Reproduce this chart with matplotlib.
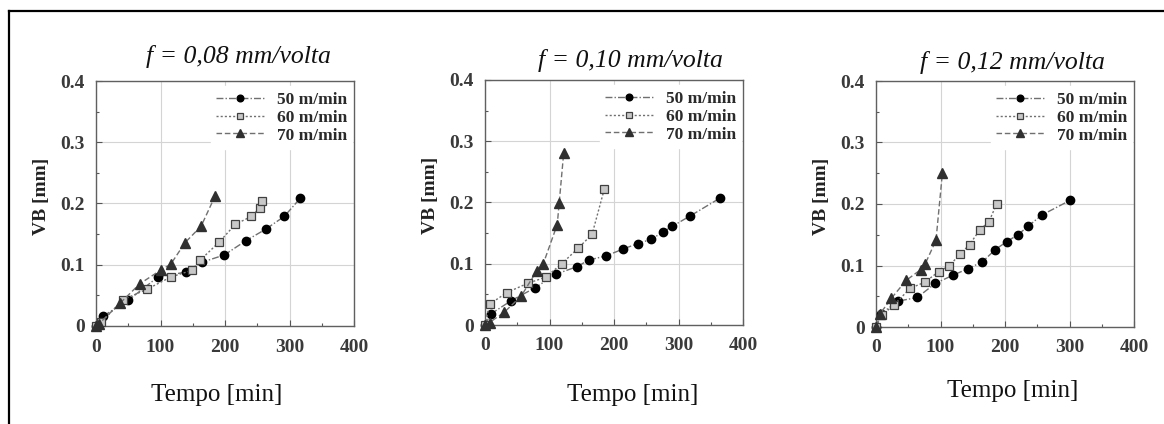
import numpy as np
import matplotlib
matplotlib.use("Agg")
import matplotlib.pyplot as plt
from matplotlib.ticker import MultipleLocator, FuncFormatter
from matplotlib.lines import Line2D

plt.rcParams['font.family'] = ['Liberation Serif', 'DejaVu Serif']

titulos = ["f = 0,08 mm/volta", "f = 0,10 mm/volta", "f = 0,12 mm/volta"]
rotulos = ["50 m/min", "60 m/min", "70 m/min"]

# f = 0,08
t50_a = [0, 11, 50, 96, 139, 164, 199, 232, 263, 292, 317]
vb50_a = [0, 0.016, 0.042, 0.080, 0.088, 0.104, 0.116, 0.139, 0.158, 0.179, 0.209]
t60_a = [0, 8, 42, 79, 116, 149, 162, 191, 216, 241, 254, 258]
vb60_a = [0, 0.006, 0.043, 0.060, 0.080, 0.091, 0.108, 0.137, 0.166, 0.179, 0.193, 0.204]
t70_a = [0, 5, 37, 68, 100, 116, 138, 163, 185]
vb70_a = [0, 0.004, 0.037, 0.069, 0.091, 0.101, 0.136, 0.163, 0.213]

# f = 0,10
t50_b = [0, 9, 41, 78, 110, 142, 161, 188, 214, 237, 258, 276, 290, 318, 364]
vb50_b = [0, 0.018, 0.040, 0.061, 0.083, 0.095, 0.106, 0.113, 0.124, 0.133, 0.140, 0.152, 0.161, 0.178, 0.207]
t60_b = [0, 7, 34, 66, 94, 119, 144, 166, 185]
vb60_b = [0, 0.034, 0.053, 0.068, 0.078, 0.100, 0.125, 0.148, 0.222]
t70_b = [0, 7, 30, 56, 80, 90, 112, 115, 122]
vb70_b = [0, 0.004, 0.021, 0.047, 0.088, 0.099, 0.164, 0.199, 0.281]

# f = 0,12
t50_c = [0, 7, 34, 64, 92, 119, 143, 165, 185, 203, 220, 236, 257, 301]
vb50_c = [0, 0.021, 0.042, 0.048, 0.071, 0.084, 0.095, 0.106, 0.126, 0.139, 0.150, 0.164, 0.182, 0.206]
t60_c = [0, 9, 28, 53, 76, 97, 113, 131, 145, 161, 175, 187]
vb60_c = [0, 0.019, 0.036, 0.063, 0.073, 0.090, 0.099, 0.119, 0.134, 0.158, 0.171, 0.200]
t70_c = [0, 6, 24, 47, 69, 76, 93, 103]
vb70_c = [0, 0.021, 0.047, 0.076, 0.093, 0.102, 0.141, 0.251]

dados = [
    [(t50_a, vb50_a), (t60_a, vb60_a), (t70_a, vb70_a)],
    [(t50_b, vb50_b), (t60_b, vb60_b), (t70_b, vb70_b)],
    [(t50_c, vb50_c), (t60_c, vb60_c), (t70_c, vb70_c)],
]

estilos = [
    dict(linestyle=(0, (5, 1.5, 1, 1.5)), marker='o', markersize=6,
         markerfacecolor='black', markeredgecolor='black'),
    dict(linestyle=(0, (1.5, 1.5)), marker='s', markersize=6,
         markerfacecolor='#c8c8c8', markeredgecolor='#404040', markeredgewidth=0.9),
    dict(linestyle=(0, (4, 2)), marker='^', markersize=6.5,
         markerfacecolor='#303030', markeredgecolor='#303030'),
]

W, H = 1164, 424
fig = plt.figure(figsize=(W / 100, H / 100), dpi=100)

caixas = [(96, 81, 354, 326), (485, 80, 743, 325), (876, 81, 1134, 327)]
pos_titulo = [(238, 57), (630, 60), (1012, 62)]
pos_xlabel = [(217, 395), (633, 395), (1013, 391)]

for i in range(3):
    x0, y0, x1, y1 = caixas[i]
    ax = fig.add_axes([x0 / W, 1 - y1 / H, (x1 - x0) / W, (y1 - y0) / H])
    for j in range(3):
        t, vb = dados[i][j]
        ax.plot(t, vb, color='#707070', linewidth=1.0, label=rotulos[j],
                clip_on=False, zorder=3 + j, **estilos[j])

    ax.set_xlim(0, 400)
    ax.set_ylim(0, 0.4)
    ax.xaxis.set_major_locator(MultipleLocator(100))
    ax.xaxis.set_minor_locator(MultipleLocator(50))
    ax.yaxis.set_major_locator(MultipleLocator(0.1))
    ax.yaxis.set_minor_locator(MultipleLocator(0.05))
    ax.yaxis.set_major_formatter(FuncFormatter(lambda v, p: '0' if abs(v) < 1e-9 else f'{v:.1f}'))
    ax.grid(True, which='major', color='#d4d4d4', linewidth=0.8)
    ax.set_axisbelow(True)
    ax.tick_params(which='both', direction='in', colors='#555555', labelcolor='#3a3a3a')
    ax.tick_params(which='major', length=4, width=0.8, labelsize=14)
    ax.tick_params(axis='y', which='major', pad=8)
    ax.tick_params(axis='x', which='major', pad=9)
    ax.tick_params(which='minor', length=2.5, width=0.8)
    for lab in ax.get_xticklabels() + ax.get_yticklabels():
        lab.set_fontweight('bold')
    for s in ax.spines.values():
        s.set_color('#606060')
        s.set_linewidth(1.0)

    ax.set_ylabel("VB [mm]", fontsize=14, fontweight='bold', color='#222222')
    ax.yaxis.set_label_coords(-0.178, 0.53)

    leg = ax.legend(loc='upper right', bbox_to_anchor=(1.0, 0.985), fontsize=12.5,
                    frameon=True, framealpha=1, edgecolor='white', fancybox=False,
                    handlelength=2.8, handletextpad=0.7, labelspacing=0.1,
                    borderaxespad=0.1, borderpad=0.3, markerscale=0.8)
    for txt in leg.get_texts():
        txt.set_fontweight('bold')
        txt.set_color('#2a2a2a')

    tx, ty = pos_titulo[i]
    fig.text(tx / W, 1 - ty / H, titulos[i], fontsize=18.5, style='italic',
             ha='center', va='center', color='#111111')
    lx, ly = pos_xlabel[i]
    fig.text(lx / W, 1 - ly / H, "Tempo [min]", fontsize=18,
             ha='center', va='center', color='#111111')

# moldura (topo e esquerda)
fig.add_artist(Line2D([9 / W, 9 / W], [0, 1 - 11 / H], color='black', linewidth=1.6,
                      transform=fig.transFigure))
fig.add_artist(Line2D([9 / W, 1], [1 - 11 / H, 1 - 11 / H], color='black', linewidth=1.6,
                      transform=fig.transFigure))

plt.savefig("out.png", dpi=100)
